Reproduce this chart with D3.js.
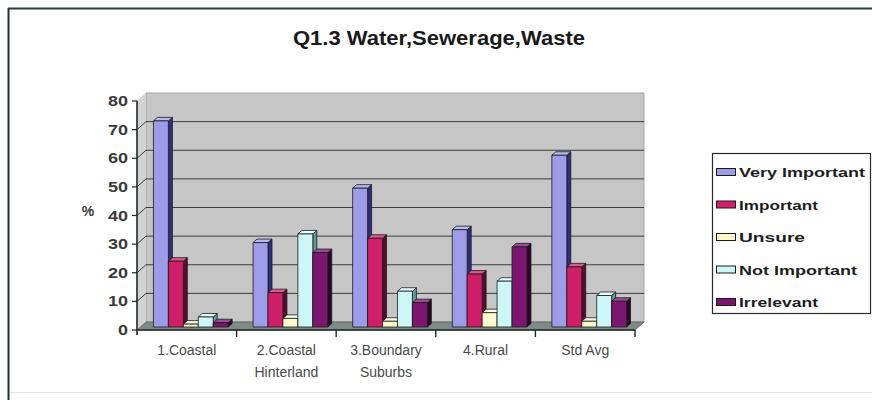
<!DOCTYPE html>
<html><head><meta charset="utf-8">
<script src="https://cdn.jsdelivr.net/npm/d3@7"></script>
<style>body{margin:0;background:#fff}svg{display:block}text{font-family:Arial,"Liberation Sans",sans-serif}</style>
</head><body><svg id="c" width="872" height="400"></svg>
<script>
const categories = [["1.Coastal"],["2.Coastal","Hinterland"],["3.Boundary","Suburbs"],["4.Rural"],["Std Avg"]];
const seriesNames = ["Very Important","Important","Unsure","Not Important","Irrelevant"];
const veryImportant = [72, 29.5, 48.5, 34, 60];
const important = [23, 12, 31, 18.5, 21];
const unsure = [1, 3, 2, 5, 2];
const notImportant = [3.5, 32.5, 12.5, 16, 11];
const irrelevant = [1.5, 26, 8.5, 28, 9];
const yTicks = [0,10,20,30,40,50,60,70,80];
const titleText = "Q1.3 Water,Sewerage,Waste";
const yLabel = "%";

const seriesValues = [veryImportant, important, unsure, notImportant, irrelevant];
const frontCol = ["#9c9ce8","#cf1f68","#fff8cc","#cdf6f6","#7c1670"];
const sideCol  = ["#2e2e80","#5a0c2c","#9a8c5e","#5f9a9a","#2c0628"];
const topCol   = ["#b8b8f4","#e05890","#fffff0","#e8ffff","#a04a96"];
const legendW  = [126,79,66,118,79];

const svg = d3.select("#c");
const X0 = 137, X1 = 635, Y0 = 330, Y80 = 101;
const wallDx = 9, wallDy = -8;
const barDx = 4, barDy = -3, barDepthX = 4, barDepthY = -3.5;

const catIds = categories.map((c,i)=>i);
const x0 = d3.scaleBand().domain(catIds).range([X0, X1]);
const bw = x0.bandwidth();
const x1 = d3.scaleBand().domain(seriesNames).range([bw*0.125, bw*0.875]);
const y = d3.scaleLinear().domain([0,80]).range([Y0, Y80]);

// outer frame
svg.append("line").attr("x1",8.5).attr("y1",8).attr("x2",8.5).attr("y2",400).attr("stroke","#24302e").attr("stroke-width",2);
svg.append("line").attr("x1",8).attr("y1",8.5).attr("x2",872).attr("y2",8.5).attr("stroke","#2e3c3a").attr("stroke-width",2);
svg.append("line").attr("x1",10).attr("y1",392.5).attr("x2",872).attr("y2",392.5).attr("stroke","#e4e4e4").attr("stroke-width",1);

// title
svg.append("text").attr("x",439).attr("y",45).attr("text-anchor","middle")
  .attr("font-size",20).attr("font-weight","bold").attr("fill","#1a1a1a")
  .attr("textLength",292).attr("lengthAdjust","spacingAndGlyphs").text(titleText);

// back wall
const pt = (a)=>a.map(p=>p.join(",")).join(" ");
svg.append("polygon").attr("points", pt([[X0+wallDx,y(80)+wallDy],[X1+wallDx,y(80)+wallDy],[X1+wallDx,y(0)+wallDy],[X0+wallDx,y(0)+wallDy]]))
  .attr("fill","#c6c6c6").attr("stroke","#9aa8a4").attr("stroke-width",1);
// side wall
svg.append("polygon").attr("points", pt([[X0,y(80)],[X0+wallDx,y(80)+wallDy],[X0+wallDx,y(0)+wallDy],[X0,y(0)]]))
  .attr("fill","#d2d2d2");
// gridlines
yTicks.filter(t=>t>0 && t<80).forEach(t=>{
  svg.append("polyline").attr("points", pt([[X0,y(t)],[X0+wallDx,y(t)+wallDy],[X1+wallDx,y(t)+wallDy]]))
    .attr("fill","none").attr("stroke","#3c3c3c").attr("stroke-width",1);
});
// floor
svg.append("polygon").attr("points", pt([[X0,y(0)],[X1,y(0)],[X1+wallDx,y(0)+wallDy],[X0+wallDx,y(0)+wallDy]]))
  .attr("fill","#7f8c86").attr("stroke","#55605c").attr("stroke-width",0.8);

// bars
categories.forEach((c,i)=>{
  seriesNames.forEach((s,j)=>{
    const v = seriesValues[j][i];
    const xl = x0(i)+x1(s)+barDx, w = x1.bandwidth();
    const yt = y(v)+barDy, yb = y(0)+barDy;
    const g = svg.append("g").attr("stroke","#1a1a1a").attr("stroke-width",0.8).attr("stroke-linejoin","round");
    g.append("polygon").attr("points", pt([[xl+w,yt],[xl+w+barDepthX,yt+barDepthY],[xl+w+barDepthX,yb+barDepthY],[xl+w,yb]])).attr("fill",sideCol[j]);
    g.append("polygon").attr("points", pt([[xl,yt],[xl+barDepthX,yt+barDepthY],[xl+w+barDepthX,yt+barDepthY],[xl+w,yt]])).attr("fill",topCol[j]);
    g.append("rect").attr("x",xl).attr("y",yt).attr("width",w).attr("height",yb-yt).attr("fill",frontCol[j]);
  });
});

// y axis
svg.append("line").attr("x1",X0).attr("y1",y(80)).attr("x2",X0).attr("y2",y(0)+5).attr("stroke","#1e2826").attr("stroke-width",1.6);
yTicks.forEach(t=>{
  svg.append("line").attr("x1",X0-5).attr("y1",y(t)).attr("x2",X0).attr("y2",y(t)).attr("stroke","#1e2826").attr("stroke-width",1.2);
  const s = String(t);
  svg.append("text").attr("x",128).attr("y",y(t)+5).attr("text-anchor","end")
    .attr("font-size",14).attr("font-weight","bold").attr("fill","#3a3a3a")
    .attr("textLength", s.length*10).attr("lengthAdjust","spacingAndGlyphs").text(s);
});
svg.append("text").attr("x",88).attr("y",216).attr("text-anchor","middle").attr("font-size",14).attr("font-weight","bold").attr("fill","#3a3a3a").text(yLabel);

// x axis
svg.append("line").attr("x1",X0).attr("y1",y(0)).attr("x2",X1).attr("y2",y(0)).attr("stroke","#1e2826").attr("stroke-width",1.4);
catIds.forEach(i=>{
  svg.append("line").attr("x1",x0(i)+bw).attr("y1",y(0)).attr("x2",x0(i)+bw).attr("y2",y(0)+7).attr("stroke","#1e2826").attr("stroke-width",1.4);
  categories[i].forEach((ln,k)=>{
    svg.append("text").attr("x",x0(i)+bw/2).attr("y",355+k*22).attr("text-anchor","middle")
      .attr("font-size",14).attr("fill","#4a4a4a").text(ln);
  });
});

// legend
svg.append("rect").attr("x",712.5).attr("y",153.5).attr("width",158).attr("height",160).attr("fill","#fff").attr("stroke","#2a2a2a").attr("stroke-width",1.2);
seriesNames.forEach((s,j)=>{
  const by = 177 + j*32.5;
  svg.append("rect").attr("x",716.5).attr("y",by-8.5).attr("width",19).attr("height",7).attr("fill",frontCol[j]).attr("stroke","#1a1a1a").attr("stroke-width",1);
  svg.append("text").attr("x",739).attr("y",by).attr("font-size",13).attr("font-weight","bold").attr("fill","#1e1e1e")
    .attr("textLength",legendW[j]).attr("lengthAdjust","spacingAndGlyphs").text(s);
});
</script></body></html>
